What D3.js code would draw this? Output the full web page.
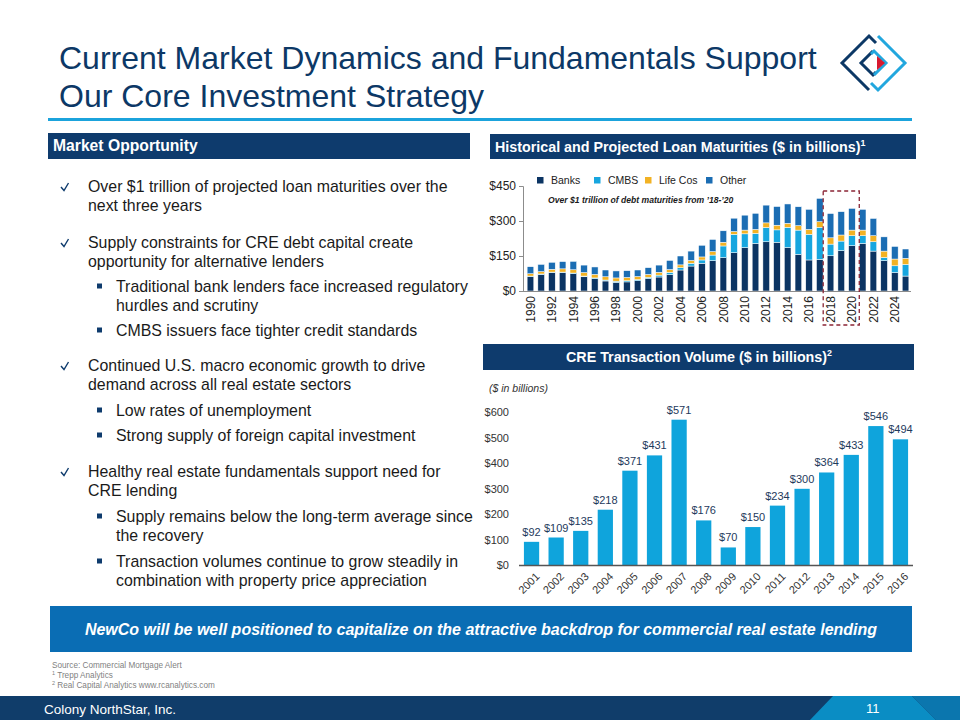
<!DOCTYPE html>
<html><head><meta charset="utf-8">
<script src="https://cdn.jsdelivr.net/npm/d3@7"></script>
<style>
html,body{margin:0;padding:0;background:#fff;}
svg{display:block;font-family:"Liberation Sans",Arial,sans-serif;}
</style></head>
<body>
<svg id="slide" width="960" height="720"></svg>
<script>
// ---------- DATA ----------
const maturityYears = [1990,1991,1992,1993,1994,1995,1996,1997,1998,1999,2000,2001,2002,2003,2004,2005,2006,2007,2008,2009,2010,2011,2012,2013,2014,2015,2016,2017,2018,2019,2020,2021,2022,2023,2024,2025];
const banks   = [62,71,79,79,74,61,53,43,37,39,44,53,60,70,90,107,119,130,143,164,186,204,211,209,186,157,133,136,151,173,194,204,171,130,79,64];
const cmbs    = [2,2,2,2,3,3,3,4,5,5,5,6,8,10,10,12,14,24,50,79,59,43,61,53,87,104,110,137,50,41,43,33,40,14,29,50];
const lifeCos = [10,10,12,14,14,15,15,14,14,14,13,12,12,12,12,12,13,15,16,12,16,17,20,20,17,19,21,24,27,26,24,24,26,27,29,26];
const other   = [30,31,30,31,36,32,32,29,30,29,28,29,31,39,38,40,50,52,49,57,64,69,76,80,83,81,86,100,104,100,93,89,74,61,54,40];
const maturitySeries = ["Banks","CMBS","Life Cos","Other"];
const maturityTicks = [0,150,300,450];
const highlightYears = [2018,2020];

const creYears  = ["2001","2002","2003","2004","2005","2006","2007","2008","2009","2010","2011","2012","2013","2014","2015","2016"];
const creVolume = [92,109,135,218,371,431,571,176,70,150,234,300,364,433,546,494];
const creTicks  = [0,100,200,300,400,500,600];

const titleLines = ["Current Market Dynamics and Fundamentals Support","Our Core Investment Strategy"];
const bulletLines = [
  {lvl:1, mark:true,  t:"Over $1 trillion of projected loan maturities over the"},
  {lvl:1, mark:false, t:"next three years"},
  {lvl:1, mark:true,  t:"Supply constraints for CRE debt capital create"},
  {lvl:1, mark:false, t:"opportunity for alternative lenders"},
  {lvl:2, mark:true,  t:"Traditional bank lenders face increased regulatory"},
  {lvl:2, mark:false, t:"hurdles and scrutiny"},
  {lvl:2, mark:true,  t:"CMBS issuers face tighter credit standards"},
  {lvl:1, mark:true,  t:"Continued U.S. macro economic growth to drive"},
  {lvl:1, mark:false, t:"demand across all real estate sectors"},
  {lvl:2, mark:true,  t:"Low rates of unemployment"},
  {lvl:2, mark:true,  t:"Strong supply of foreign capital investment"},
  {lvl:1, mark:true,  t:"Healthy real estate fundamentals support need for"},
  {lvl:1, mark:false, t:"CRE lending"},
  {lvl:2, mark:true,  t:"Supply remains below the long-term average since"},
  {lvl:2, mark:false, t:"the recovery"},
  {lvl:2, mark:true,  t:"Transaction volumes continue to grow steadily in"},
  {lvl:2, mark:false, t:"combination with property price appreciation"}
];
const bulletBaselines = [192,211,248,267,292,311,336,371,390,416,441,477,496,522,541,567,586];

// ---------- STYLE ----------
const NAVY = "#0e3b6d";
const colors = {"Banks":"#0b3463","CMBS":"#17a6df","Life Cos":"#f2b224","Other":"#1b6db3"};

const svg = d3.select("#slide");

// Title
svg.append("g").selectAll("text").data(titleLines).join("text")
  .attr("x",59).attr("y",(d,i)=>69+i*37.5)
  .attr("font-size",32).attr("fill","#0c3866").text(d=>d);
svg.append("line").attr("x1",48).attr("x2",912).attr("y1",119.5).attr("y2",119.5)
  .attr("stroke","#1ba3dc").attr("stroke-width",3);

// Logo
const logo = svg.append("g").attr("fill","none").attr("stroke-width",3).attr("stroke-linejoin","miter");
logo.append("path").attr("d","M876,43 L869,36 L842,63 L869,90 M873,51 L861,63 L873,75 L876,72").attr("stroke","#0c3866");
logo.append("path").attr("d","M871,83 L878,90 L905,63 L878,36 M874,75 L886,63 L874,51 L871,54").attr("stroke","#22a7de");
logo.append("path").attr("d","M877,56 L885,63 L877,70 Z").attr("fill","#d7192f").attr("stroke","none");

// Header bars
function header(x,y,w,h,label,sup,tx,anchor,fs){
  svg.append("rect").attr("x",x).attr("y",y).attr("width",w).attr("height",h).attr("fill",NAVY);
  const t = svg.append("text").attr("x",tx).attr("y",y+h/2+5).attr("fill","#fff")
    .attr("font-weight","bold").attr("font-size",fs).attr("text-anchor",anchor);
  t.append("tspan").text(label);
  if(sup) t.append("tspan").attr("font-size",fs*0.62).attr("dy",-6).text(sup);
}
header(48,133,422,26,"Market Opportunity",null,53,"start",15.7);
header(490,134,426,25,"Historical and Projected Loan Maturities ($ in billions)","1",495,"start",14.3);
header(483,344,431,26,"CRE Transaction Volume ($ in billions)","2",699,"middle",14.3);

// Left bullets
const bl = svg.append("g").attr("font-size",15.9).attr("fill","#1a1a1a");
bulletLines.forEach((d,i)=>{
  const y = bulletBaselines[i];
  const tx = d.lvl===1 ? 88 : 116;
  bl.append("text").attr("x",tx).attr("y",y).text(d.t);
  if(d.mark){
    if(d.lvl===1){
      bl.append("path").attr("d",`M61,${y-5} L64,${y-1.5} L68.5,${y-9}`)
        .attr("fill","none").attr("stroke",NAVY).attr("stroke-width",1.4);
    } else {
      bl.append("rect").attr("x",97).attr("y",y-8.5).attr("width",5).attr("height",5).attr("fill",NAVY);
    }
  }
});

// ---------- Stacked maturity chart ----------
const mx = d3.scaleBand().domain(maturityYears).range([525,911]).paddingInner(0.38).paddingOuter(0.2);
const my = d3.scaleLinear().domain([0,450]).range([291,186]);
const rows = maturityYears.map((yr,i)=>({year:yr,"Banks":banks[i],"CMBS":cmbs[i],"Life Cos":lifeCos[i],"Other":other[i]}));
const stacked = d3.stack().keys(maturitySeries)(rows);
const mg = svg.append("g");
mg.selectAll("g.s").data(stacked).join("g").attr("fill",d=>colors[d.key])
  .selectAll("rect").data(d=>d).join("rect")
  .attr("x",d=>mx(d.data.year)).attr("width",mx.bandwidth())
  .attr("y",d=>my(d[1])).attr("height",d=>Math.max(0,my(d[0])-my(d[1])))
  .attr("stroke","#fff").attr("stroke-width",0.5);

const yAx = svg.append("g").attr("transform","translate(523,0)")
  .call(d3.axisLeft(my).tickValues(maturityTicks).tickFormat(d=>"$"+d).tickSize(4).tickPadding(3));
yAx.select(".domain").attr("stroke","#8c8c8c");
yAx.selectAll(".tick line").attr("stroke","#8c8c8c");
yAx.selectAll("text").attr("font-size",12).attr("fill","#222").attr("font-family","Liberation Sans, Arial");

const xAx = svg.append("g").attr("transform","translate(0,291)")
  .call(d3.axisBottom(mx).tickValues(maturityYears.filter(y=>y%2===0)).tickSize(0).tickPadding(0));
xAx.select(".domain").attr("stroke","#8c8c8c").attr("d","M523,0.5H911");
xAx.selectAll("text").attr("font-size",12).attr("fill","#222").attr("font-family","Liberation Sans, Arial")
  .attr("text-anchor","end").attr("dy","0.35em").attr("transform","translate(0,5) rotate(-90)");

// legend
const lg = svg.append("g").attr("font-size",10.5).attr("fill","#222");
const legendX = [537,594,645,706];
maturitySeries.forEach((k,i)=>{
  lg.append("rect").attr("x",legendX[i]).attr("y",177).attr("width",6.5).attr("height",6.5).attr("fill",colors[k]);
  lg.append("text").attr("x",legendX[i]+14).attr("y",184).text(k);
});
svg.append("text").attr("x",548).attr("y",203).attr("font-size",8.6).attr("font-weight","bold")
  .attr("font-style","italic").attr("fill","#1a1a1a").text("Over $1 trillion of debt maturities from \u201918-\u201920");

// dashed highlight box
const hx0 = mx(highlightYears[0]) - 4, hx1 = mx(highlightYears[1]) + mx.bandwidth() + 4;
svg.append("rect").attr("x",hx0).attr("y",191).attr("width",hx1-hx0).attr("height",134)
  .attr("fill","none").attr("stroke","#8a2434").attr("stroke-width",1.3).attr("stroke-dasharray","4,3");

// ---------- CRE chart ----------
const cx = d3.scaleBand().domain(creYears).range([519,913]).paddingInner(0.38).paddingOuter(0.2);
const cy = d3.scaleLinear().domain([0,600]).range([565.3,412.3]);
const cg = svg.append("g");
cg.selectAll("rect").data(creVolume).join("rect")
  .attr("x",(d,i)=>cx(creYears[i])).attr("width",cx.bandwidth())
  .attr("y",d=>cy(d)).attr("height",d=>cy(0)-cy(d)).attr("fill","#0fa4dc");
cg.selectAll("text.v").data(creVolume).join("text").attr("class","v")
  .attr("x",(d,i)=>cx(creYears[i])+cx.bandwidth()/2).attr("y",d=>cy(d)-6)
  .attr("text-anchor","middle").attr("font-size",11).attr("fill","#1e3a5c").text(d=>"$"+d);

const cyAx = svg.append("g").attr("transform","translate(509,0)")
  .call(d3.axisLeft(cy).tickValues(creTicks).tickFormat(d=>"$"+d).tickSize(0).tickPadding(0));
cyAx.select(".domain").remove();
cyAx.selectAll("text").attr("font-size",11).attr("fill","#333").attr("font-family","Liberation Sans, Arial");

const cxAx = svg.append("g").attr("transform","translate(0,565.5)")
  .call(d3.axisBottom(cx).tickSize(0).tickPadding(0));
cxAx.select(".domain").attr("stroke","#555").attr("stroke-width",1.5).attr("d","M519,0H913");
cxAx.selectAll("text").attr("font-size",11).attr("fill","#333").attr("font-family","Liberation Sans, Arial")
  .attr("text-anchor","end").attr("dy","0.35em").attr("transform","translate(6,9) rotate(-45)");

svg.append("text").attr("x",489).attr("y",392).attr("font-size",10.5).attr("font-style","italic")
  .attr("fill","#333").text("($ in billions)");

// ---------- Banner ----------
svg.append("rect").attr("x",50).attr("y",606).attr("width",862).attr("height",46).attr("fill","#0a6db4");
svg.append("text").attr("x",481).attr("y",635).attr("text-anchor","middle").attr("fill","#fff")
  .attr("font-size",16).attr("font-weight","bold").attr("font-style","italic")
  .text("NewCo will be well positioned to capitalize on the attractive backdrop for commercial real estate lending");

// ---------- Footnotes ----------
const fn = svg.append("g").attr("font-size",8.2).attr("fill","#7f7f7f");
fn.append("text").attr("x",52).attr("y",668).text("Source: Commercial Mortgage Alert");
const f1 = fn.append("text").attr("x",52).attr("y",678);
f1.append("tspan").attr("font-size",5.5).attr("dy",-3).text("1");
f1.append("tspan").attr("dy",3).text(" Trepp Analytics");
const f2 = fn.append("text").attr("x",52).attr("y",688);
f2.append("tspan").attr("font-size",5.5).attr("dy",-3).text("2");
f2.append("tspan").attr("dy",3).text(" Real Capital Analytics www.rcanalytics.com");

// ---------- Footer ----------
svg.append("rect").attr("x",0).attr("y",696).attr("width",960).attr("height",24).attr("fill","#103d6a");
svg.append("path").attr("d","M833,696 L912,696 L936,720 L810,720 Z").attr("fill","#0a8dc4");
svg.append("path").attr("d","M912,696 L960,696 L960,720 L936,720 Z").attr("fill","#0b76ae");
svg.append("text").attr("x",44).attr("y",714).attr("font-size",13.5).attr("fill","#fff").text("Colony NorthStar, Inc.");
svg.append("text").attr("x",866).attr("y",713).attr("font-size",13).attr("fill","#fff").text("11");
</script>
</body></html>
